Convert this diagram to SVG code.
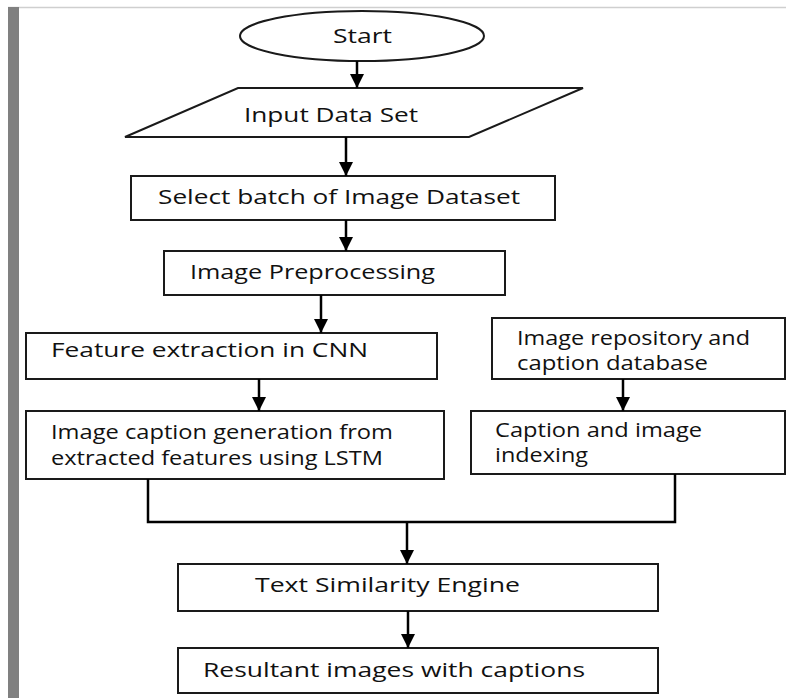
<svg xmlns="http://www.w3.org/2000/svg" width="786" height="698" viewBox="0 0 786 698">
  <style>
    .shape { fill: #ffffff; stroke: #1a1a1a; stroke-width: 2; }
    .wire { fill: none; stroke: #000000; stroke-width: 2.5; }
    .label { font-family: "Open Sans", "Liberation Sans", sans-serif; font-size: 20px; fill: #111111; }
  </style>
  <defs>
    <marker id="arrow" markerUnits="userSpaceOnUse" markerWidth="16" markerHeight="14" refX="14" refY="7" orient="auto">
      <path d="M0,0 L14,7 L0,14 Z" fill="#000000"/>
    </marker>
  </defs>

  <rect x="0" y="0" width="786" height="698" fill="#ffffff"/>
  <!-- page frame -->
  <line x1="8" y1="7.5" x2="786" y2="7.5" stroke="#cfcfcf" stroke-width="1.5"/>
  <rect x="8" y="7" width="11" height="691" fill="#808080"/>

  <g id="start">
    <ellipse class="shape" cx="362" cy="36" rx="122" ry="25"/>
    <text class="label" x="333" y="43" textLength="59" lengthAdjust="spacingAndGlyphs">Start</text>
  </g>

  <g id="input-data-set">
    <polygon class="shape" points="238,88 583,88 469,137 125,137"/>
    <text class="label" x="244" y="122" textLength="174" lengthAdjust="spacingAndGlyphs">Input Data Set</text>
  </g>

  <g id="select-batch">
    <rect class="shape" x="131" y="176" width="424" height="44"/>
    <text class="label" x="158" y="204" textLength="362" lengthAdjust="spacingAndGlyphs">Select batch of Image Dataset</text>
  </g>

  <g id="preprocessing">
    <rect class="shape" x="164" y="251" width="341" height="44"/>
    <text class="label" x="190" y="279" textLength="245" lengthAdjust="spacingAndGlyphs">Image Preprocessing</text>
  </g>

  <g id="feature-extraction">
    <rect class="shape" x="26" y="333" width="411" height="46"/>
    <text class="label" x="51" y="357" textLength="317" lengthAdjust="spacingAndGlyphs">Feature extraction in CNN</text>
  </g>

  <g id="caption-generation">
    <rect class="shape" x="26" y="411" width="418" height="68"/>
    <text class="label" x="51" y="439" textLength="342" lengthAdjust="spacingAndGlyphs">Image caption generation from</text>
    <text class="label" x="51" y="465" textLength="332" lengthAdjust="spacingAndGlyphs">extracted features using LSTM</text>
  </g>

  <g id="repository">
    <rect class="shape" x="492" y="318" width="293" height="61"/>
    <text class="label" x="517" y="345" textLength="233" lengthAdjust="spacingAndGlyphs">Image repository and</text>
    <text class="label" x="517" y="370" textLength="191" lengthAdjust="spacingAndGlyphs">caption database</text>
  </g>

  <g id="indexing">
    <rect class="shape" x="471" y="411" width="314" height="63"/>
    <text class="label" x="495" y="437" textLength="207" lengthAdjust="spacingAndGlyphs">Caption and image</text>
    <text class="label" x="495" y="462" textLength="93" lengthAdjust="spacingAndGlyphs">indexing</text>
  </g>

  <g id="similarity-engine">
    <rect class="shape" x="178" y="564" width="480" height="47"/>
    <text class="label" x="255" y="592" textLength="265" lengthAdjust="spacingAndGlyphs">Text Similarity Engine</text>
  </g>

  <g id="result">
    <rect class="shape" x="178" y="648" width="480" height="45"/>
    <text class="label" x="203" y="677" textLength="382" lengthAdjust="spacingAndGlyphs">Resultant images with captions</text>
  </g>

  <g id="connectors">
    <line class="wire" x1="357" y1="61" x2="357" y2="88" marker-end="url(#arrow)"/>
    <line class="wire" x1="346" y1="137" x2="346" y2="176" marker-end="url(#arrow)"/>
    <line class="wire" x1="346" y1="220" x2="346" y2="251" marker-end="url(#arrow)"/>
    <line class="wire" x1="321" y1="295" x2="321" y2="333" marker-end="url(#arrow)"/>
    <line class="wire" x1="259" y1="379" x2="259" y2="411" marker-end="url(#arrow)"/>
    <line class="wire" x1="623" y1="379" x2="623" y2="411" marker-end="url(#arrow)"/>
    <polyline class="wire" points="148,479 148,522 675,522 675,474"/>
    <line class="wire" x1="407" y1="522" x2="407" y2="564" marker-end="url(#arrow)"/>
    <line class="wire" x1="408" y1="611" x2="408" y2="648" marker-end="url(#arrow)"/>
  </g>
</svg>
